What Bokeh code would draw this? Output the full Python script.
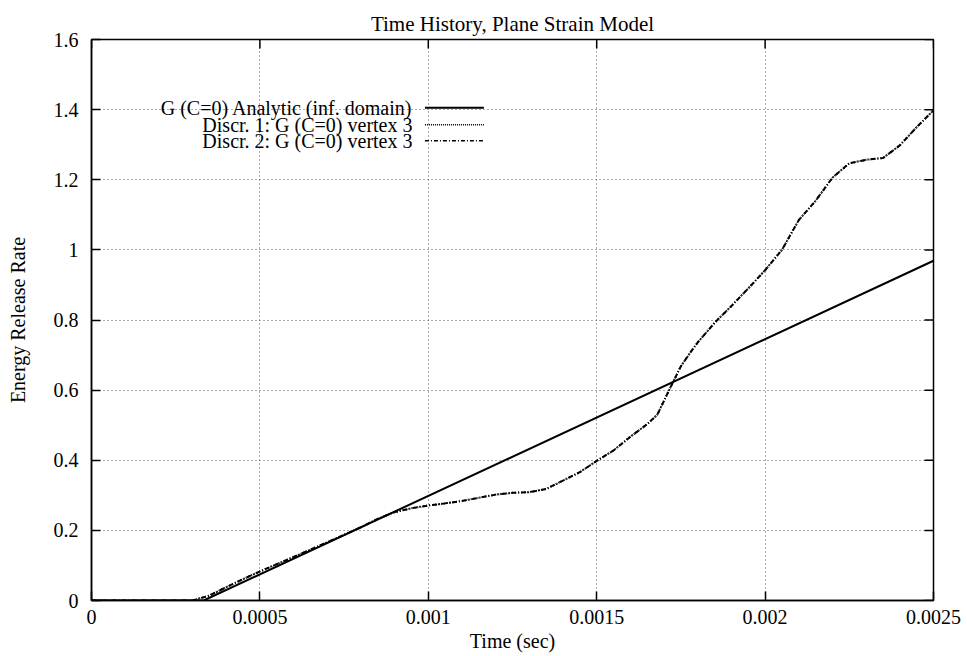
from bokeh.plotting import figure
from bokeh.models import FixedTicker, Label, Arrow, Range1d
from bokeh.embed import file_html
from bokeh.resources import INLINE

# ---------------- data ----------------
analytic_t = [0.0, 0.000333, 0.0025]
analytic_g = [0.0, 0.0, 0.969]

discr_t = [0.0, 0.0003, 0.00035, 0.0004, 0.00045, 0.0005, 0.0006, 0.0007, 0.0008,
           0.00085, 0.0009, 0.00095, 0.001, 0.00105, 0.0011, 0.00115, 0.0012,
           0.00125, 0.0013, 0.00135, 0.0014, 0.00145, 0.0015, 0.00155, 0.0016,
           0.00165, 0.00168, 0.0017, 0.00172, 0.00175, 0.00178, 0.0018, 0.00185,
           0.0019, 0.00195, 0.002, 0.00205, 0.0021, 0.00215, 0.0022, 0.00225,
           0.0023, 0.00235, 0.0024, 0.00245, 0.0025]
discr1_g = [0.0, 0.0, 0.014, 0.038, 0.061, 0.083, 0.124, 0.166, 0.209,
            0.233, 0.252, 0.263, 0.271, 0.277, 0.284, 0.293, 0.302,
            0.307, 0.309, 0.318, 0.342, 0.366, 0.398, 0.428, 0.467,
            0.503, 0.53, 0.57, 0.61, 0.668, 0.71, 0.736, 0.792,
            0.840, 0.89, 0.942, 1.0, 1.085, 1.14, 1.206, 1.247,
            1.257, 1.262, 1.298, 1.35, 1.398]
discr2_g = [0.0, 0.0, 0.014, 0.038, 0.061, 0.083, 0.124, 0.166, 0.209,
            0.233, 0.252, 0.263, 0.271, 0.277, 0.284, 0.293, 0.302,
            0.307, 0.309, 0.318, 0.342, 0.366, 0.398, 0.428, 0.467,
            0.503, 0.53, 0.57, 0.61, 0.668, 0.71, 0.736, 0.792,
            0.840, 0.89, 0.942, 1.0, 1.085, 1.14, 1.206, 1.247,
            1.257, 1.262, 1.298, 1.35, 1.398]

x_ticks = [0.0, 0.0005, 0.001, 0.0015, 0.002, 0.0025]
x_tick_labels = ["0", "0.0005", "0.001", "0.0015", "0.002", "0.0025"]
y_ticks = [0.0, 0.2, 0.4, 0.6, 0.8, 1.0, 1.2, 1.4, 1.6]
y_tick_labels = ["0", "0.2", "0.4", "0.6", "0.8", "1", "1.2", "1.4", "1.6"]

series_labels = ["G (C=0) Analytic (inf. domain)",
                 "Discr. 1: G (C=0) vertex 3",
                 "Discr. 2: G (C=0) vertex 3"]

FONT = "Liberation Serif"
FS = "20px"
X0, X1, Y0, Y1 = 0.0, 0.0025, 0.0, 1.6

p = figure(width=967, height=656, x_range=Range1d(X0, X1), y_range=Range1d(Y0, Y1),
           output_backend="svg", toolbar_location=None,
           title="Time History, Plane Strain Model",
           min_border_left=91, min_border_right=34, min_border_top=39, min_border_bottom=56)

p.title.align = "center"
p.title.text_font = FONT
p.title.text_font_size = "21px"
p.title.text_font_style = "normal"
p.title.text_color = "black"
p.title.standoff = 8

p.outline_line_color = "black"
p.outline_line_width = 1.5
p.outline_line_alpha = 1.0
p.background_fill_color = "white"
p.border_fill_color = "white"

xt = FixedTicker(ticks=x_ticks)
yt = FixedTicker(ticks=y_ticks)

for ax, tk, labs, ticks in ((p.xaxis[0], xt, x_tick_labels, x_ticks),
                            (p.yaxis[0], yt, y_tick_labels, y_ticks)):
    ax.ticker = tk
    ax.major_label_overrides = {t: l for t, l in zip(ticks, labs)}
    ax.major_tick_in = 9
    ax.major_tick_out = 0
    ax.minor_tick_in = 0
    ax.minor_tick_out = 0
    ax.major_tick_line_width = 1.5
    ax.major_tick_line_color = "black"
    ax.axis_line_width = 1.5
    ax.axis_line_color = "black"
    ax.major_label_text_font = FONT
    ax.major_label_text_font_size = FS
    ax.major_label_text_color = "black"
    ax.axis_label_text_font = FONT
    ax.axis_label_text_font_size = FS
    ax.axis_label_text_font_style = "normal"
    ax.axis_label_text_color = "black"

p.xaxis.axis_label = "Time (sec)"
p.xaxis.major_label_standoff = 9
p.xaxis.axis_label_standoff = 3
p.yaxis.axis_label = "Energy Release Rate"
p.yaxis.major_label_standoff = 13
p.yaxis.axis_label_standoff = 22

p.xgrid.ticker = xt
p.ygrid.ticker = yt
for g in (p.xgrid, p.ygrid):
    g.grid_line_color = "#555555"
    g.grid_line_dash = "1 3"
    g.grid_line_width = 1

# mirrored inward tick marks on top and right borders (9 px long)
tick_dy = 9 * (Y1 - Y0) / 560.0
tick_dx = 9 * (X1 - X0) / 842.0
p.segment(x0=x_ticks, y0=[Y1] * len(x_ticks), x1=x_ticks, y1=[Y1 - tick_dy] * len(x_ticks),
          line_color="black", line_width=1.5)
p.segment(x0=[X1] * len(y_ticks), y0=y_ticks, x1=[X1 - tick_dx] * len(y_ticks), y1=y_ticks,
          line_color="black", line_width=1.5)

# curves
p.line(discr_t, discr1_g, line_color="black", line_width=2, line_dash="1 2")
p.line(discr_t, discr2_g, line_color="black", line_width=2, line_dash="5 2 1 2")
p.line(analytic_t, analytic_g, line_color="black", line_width=2)

# legend (text right-aligned, sample to the right)
dashes = ["solid", "1 1", "4 2 1 2"]
widths = [2, 1.5, 1.5]
rows_y = [1.405, 1.357, 1.311]
for lab, dash, w, yy in zip(series_labels, dashes, widths, rows_y):
    p.add_layout(Label(x=0.000953, y=yy, text=lab, text_align="right",
                       text_baseline="middle", text_font=FONT, text_font_size=FS,
                       text_color="black"))
    p.add_layout(Arrow(end=None, x_start=0.00099, y_start=yy, x_end=0.001165, y_end=yy,
                       line_color="black", line_width=w, line_dash=dash))

open("out.html", "w").write(file_html(p, INLINE))
